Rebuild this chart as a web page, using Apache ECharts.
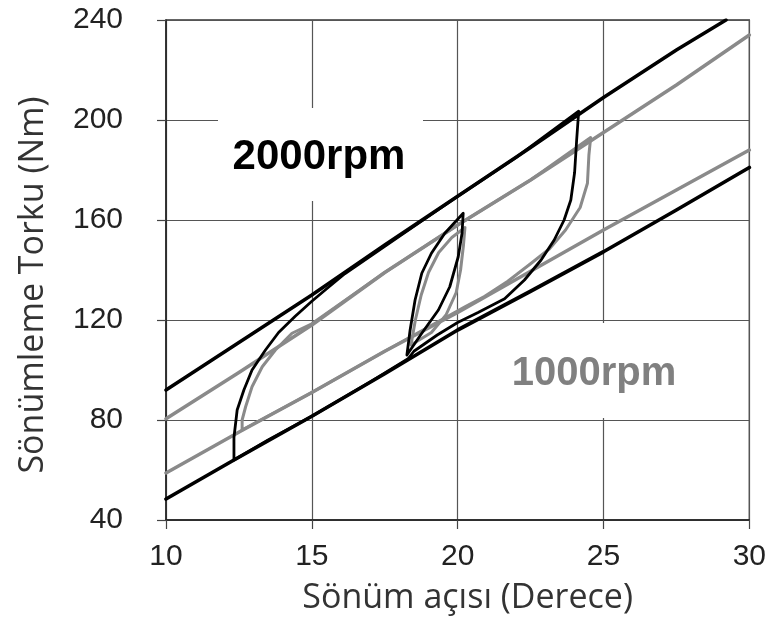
<!DOCTYPE html>
<html>
<head>
<meta charset="utf-8">
<script src="https://cdn.jsdelivr.net/npm/echarts@6/dist/echarts.min.js"></script>
<style>
  html, body { margin: 0; padding: 0; background: #fff; }
  #main { width: 769px; height: 626px; }
</style>
</head>
<body>
<div id="main"></div>
<script>
// axis ticks
var xTicks = [10, 15, 20, 25, 30];
var yTicks = [40, 80, 120, 160, 200, 240];

// 2000rpm (black) limit lines
var blackUpper = [[10, 92], [12.5, 111], [15, 130], [17.5, 150], [20, 169.5], [22.5, 189], [25, 209], [27.5, 228], [29.2, 240]];
var blackLower = [[10, 48.4], [12.33, 64], [15, 81.5], [17.5, 98.5], [20, 116], [22.5, 131.5], [25, 147.3], [27.5, 164], [30, 181]];
// 1000rpm (grey) limit lines
var grayUpper = [[10, 80.5], [12.5, 99], [15, 118], [17.5, 139], [20, 158], [22.5, 176], [25, 195], [27.5, 214], [30, 234]];
var grayLower = [[10, 58.8], [12.6, 75.8], [15, 91], [17.5, 107.5], [20, 123], [22.5, 139.5], [25, 156], [27.5, 172], [30, 188]];

// hysteresis loops
var blackBigLoop = [
  [12.33, 64], [12.33, 73], [12.44, 84], [12.67, 92], [12.95, 100], [13.41, 108], [13.86, 115], [14.43, 121.5],
  [15, 127.5], [15.56, 133], [16.13, 138.5], [18, 153.5], [20, 169.5], [22, 185], [24.15, 203.5],
  [24.08, 192], [24.01, 179], [23.88, 168], [23.65, 160], [23.31, 152], [22.86, 144], [22.29, 136], [21.61, 128.5],
  [20.7, 123], [20, 119], [19.3, 114], [18.5, 107.5], [18.3, 104.5], [17, 95.2], [15, 81.5], [13.5, 72], [12.33, 64]
];
var blackSmallLoop = [
  [18.26, 106], [18.37, 116], [18.54, 128], [18.77, 138.7], [19.1, 146.7], [19.56, 154.7], [20.19, 162.7],
  [20.15, 154.7], [20.02, 145.3], [19.73, 133.3], [19.34, 124], [18.77, 114.7], [18.26, 106]
];
var grayBigLoop = [
  [12.61, 76], [12.61, 80], [12.73, 85.3], [12.95, 93.3], [13.3, 101.3], [13.75, 108], [14.32, 114.7], [15, 118.5],
  [17.5, 139], [20, 158], [22.5, 176], [24.56, 193],
  [24.5, 186], [24.45, 174.7], [24.2, 165], [23.7, 156], [23.15, 148.5], [22.5, 142.5], [21.72, 135.5], [20.93, 129.5],
  [20.25, 125.3], [17.5, 107.5], [15, 91], [12.61, 76]
];
var graySmallLoop = [
  [18.4, 110], [18.55, 120], [18.75, 130], [19.0, 139], [19.35, 147], [19.8, 153], [20.25, 157],
  [20.2, 150], [20.1, 140], [19.95, 131], [19.6, 122], [19.1, 115], [18.4, 110]
];

var BLACK = '#000';
var GRAY = '#8a8a8a';

function lineSeries(data, color, width) {
  return {
    type: 'line',
    data: data,
    showSymbol: false,
    symbol: 'none',
    animation: false,
    lineStyle: { color: color, width: width, join: 'round', cap: 'round' },
    z: 2
  };
}

var myChart = echarts.init(document.getElementById('main'));
myChart.setOption({
  animation: false,
  backgroundColor: '#fff',
  grid: { left: 166, right: 16, top: 20, bottom: 106, show: true, borderColor: '#333', borderWidth: 1.3 },
  xAxis: {
    type: 'value',
    min: xTicks[0],
    max: xTicks[xTicks.length - 1],
    interval: 5,
    name: 'Sönüm açısı (Derece)',
    nameLocation: 'middle',
    nameGap: 61,
    nameTextStyle: { fontFamily: 'Open Sans', fontSize: 34, color: '#333', padding: [0, 0, 0, 20] },
    axisLine: { lineStyle: { color: '#222', width: 1.5 } },
    axisTick: { inside: false, length: 9, lineStyle: { color: '#444', width: 1.2 } },
    splitLine: { lineStyle: { color: '#555', width: 1.2 } },
    axisLabel: { margin: 22, fontSize: 30, color: '#222', fontFamily: 'Liberation Sans' }
  },
  yAxis: {
    type: 'value',
    min: yTicks[0],
    max: yTicks[yTicks.length - 1],
    interval: 40,
    name: 'Sönümleme Torku (Nm)',
    nameLocation: 'middle',
    nameRotate: 90,
    nameGap: 116,
    nameTextStyle: { fontFamily: 'Open Sans', fontSize: 34, color: '#333', padding: [0, 30, 0, 0] },
    axisLine: { lineStyle: { color: '#222', width: 1.5 } },
    axisTick: { inside: false, length: 9, lineStyle: { color: '#444', width: 1.2 } },
    splitLine: { lineStyle: { color: '#555', width: 1.2 } },
    axisLabel: { margin: 43, fontSize: 30, color: '#222', fontFamily: 'Liberation Sans' }
  },
  graphic: [
    { type: 'rect', z: 1, shape: { x: 218, y: 108, width: 205, height: 93 }, style: { fill: '#fff' } },
    { type: 'text', z: 5, x: 319, y: 157,
      style: { text: '2000rpm', fontSize: 42, fontWeight: 'bold', fontFamily: 'Liberation Sans', fill: '#000',
               align: 'center', verticalAlign: 'middle' } },
    { type: 'rect', z: 1, shape: { x: 470, y: 323, width: 270, height: 95 }, style: { fill: '#fff' } },
    { type: 'text', z: 5, x: 594, y: 374,
      style: { text: '1000rpm', fontSize: 40, fontWeight: 'bold', fontFamily: 'Liberation Sans', fill: '#808080',
               align: 'center', verticalAlign: 'middle' } }
  ],
  series: [
    lineSeries(grayUpper, GRAY, 3.5),
    lineSeries(grayLower, GRAY, 3.5),
    lineSeries(grayBigLoop, GRAY, 3),
    lineSeries(graySmallLoop, GRAY, 3),
    lineSeries(blackUpper, BLACK, 3.5),
    lineSeries(blackLower, BLACK, 3.7),
    lineSeries(blackBigLoop, BLACK, 2.8),
    lineSeries(blackSmallLoop, BLACK, 2.8)
  ]
});
</script>
</body>
</html>
